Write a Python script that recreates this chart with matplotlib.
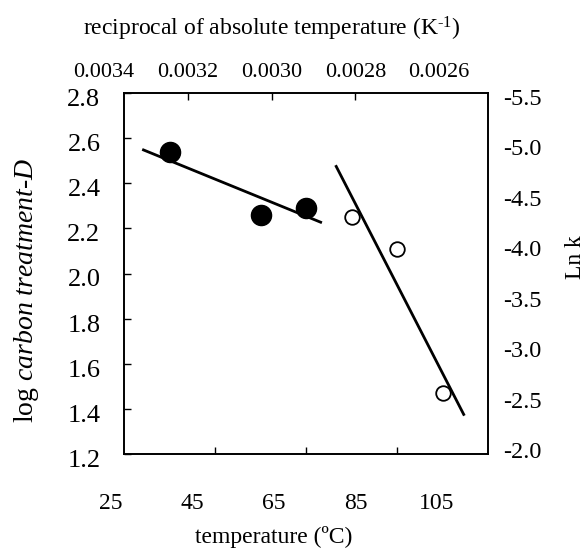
import matplotlib
matplotlib.use('Agg')
import matplotlib.pyplot as plt
import matplotlib.transforms as mtransforms

plt.rcParams['font.family'] = 'Liberation Serif'
plt.rcParams['mathtext.fontset'] = 'custom'
plt.rcParams['mathtext.rm'] = 'Liberation Serif'
plt.rcParams['mathtext.it'] = 'Liberation Serif:italic'

# datos
temp_baja = [35, 55, 65]
logD_baja = [2.54, 2.26, 2.29]
temp_alta = [75, 85, 95]
logD_alta = [2.25, 2.11, 1.47]

# rectas de ajuste (extremos)
recta_baja_x = [29, 68.5]
recta_baja_y = [2.55, 2.225]
recta_alta_x = [71.5, 99.8]
recta_alta_y = [2.48, 1.37]

temp_ticks = [25, 45, 65, 85, 105]
recip_ticks = [0.0034, 0.0032, 0.0030, 0.0028, 0.0026]
recip_labels = ['0.0034', '0.0032', '0.0030', '0.0028', '0.0026']
recip_marcas = [0.0032, 0.0030, 0.0028]
logD_ticks = [1.2, 1.4, 1.6, 1.8, 2.0, 2.2, 2.4, 2.6, 2.8]
lnk_ticks = [-5.5, -5.0, -4.5, -4.0, -3.5, -3.0, -2.5, -2.0]

W, H = 586, 548
fig = plt.figure(figsize=(W / 100, H / 100), dpi=100)

# eje principal
ax = fig.add_axes([124 / W, 94 / H, 364 / W, 361 / H])
ax.plot(recta_baja_x, recta_baja_y, color='k', linewidth=2.0, solid_capstyle='butt')
ax.plot(recta_alta_x, recta_alta_y, color='k', linewidth=2.0, solid_capstyle='butt')
ax.plot(temp_baja, logD_baja, 'o', color='k', markersize=14.5, zorder=3)
ax.plot(temp_alta, logD_alta, 'o', markerfacecolor='white', markeredgecolor='k',
        markersize=10.5, markeredgewidth=1.3, zorder=3)
ax.set_xlim(25, 105)
ax.set_ylim(1.2, 2.8)
ax.set_xticks([45, 65, 85])
ax.set_xticklabels([])
ax.set_yticks(logD_ticks)
ax.set_yticklabels(['%.1f' % v for v in logD_ticks], fontsize=19)
ax.tick_params(axis='x', direction='in', length=5, width=1, top=False)
ax.tick_params(axis='y', direction='in', length=5, width=1, right=True, pad=17)
for s in ax.spines.values():
    s.set_linewidth(1.4)
desplazar = mtransforms.ScaledTranslation(0, -4.5 / 100, fig.dpi_scale_trans)
for lab in ax.get_yticklabels():
    lab.set_transform(lab.get_transform() + desplazar)
ax.set_ylabel(r'log $\mathit{carbon}$ $\mathit{treatment}$-$\mathit{D}$', fontsize=20)
ax.yaxis.set_label_coords(-0.228, 0.454)

# eje derecho Ln k
ax2 = ax.twinx()
ax2.set_ylim(-1.96, -5.54)
ax2.set_yticks(lnk_ticks)
ax2.set_yticklabels(['%.1f' % v for v in lnk_ticks], fontsize=17.5)
ax2.tick_params(axis='y', length=0, pad=11)
ax2.set_ylabel('Ln k', fontsize=17)
ax2.yaxis.set_label_coords(1.212, 0.546)
for s in ax2.spines.values():
    s.set_visible(False)

# eje superior (inverso de temperatura absoluta)
ax_sup = fig.add_axes([104 / W, 94 / H, 335 / W, 361 / H], frameon=False)
ax_sup.set_xlim(0.0034, 0.0026)
ax_sup.xaxis.tick_top()
ax_sup.xaxis.set_label_position('top')
ax_sup.set_xticks(recip_ticks)
ax_sup.set_xticklabels(recip_labels, fontsize=16)
ax_sup.tick_params(axis='x', length=0, pad=8)
ax_sup.set_yticks([])
ax_sup.set_xlabel(r'reciprocal of absolute temperature (K$^{\text{-}1}$)', fontsize=17)
ax_sup.xaxis.set_label_coords(0.5, 1.16)

# marcas del eje superior
ax_marcas = fig.add_axes([104 / W, 94 / H, 335 / W, 361 / H], frameon=False)
ax_marcas.set_xlim(0.0034, 0.0026)
ax_marcas.xaxis.tick_top()
ax_marcas.set_xticks(recip_marcas)
ax_marcas.set_xticklabels([])
ax_marcas.tick_params(axis='x', direction='in', length=5, width=1)
ax_marcas.set_yticks([])

# eje inferior de etiquetas (temperatura)
ax_inf = fig.add_axes([111 / W, 94 / H, 326 / W, 361 / H], frameon=False)
ax_inf.set_xlim(25, 105)
ax_inf.set_xticks(temp_ticks)
ax_inf.set_xticklabels([str(t) for t in temp_ticks], fontsize=17)
ax_inf.tick_params(axis='x', length=0, pad=28)
ax_inf.set_yticks([])
ax_inf.set_xlabel('temperature (ºC)', fontsize=17)
ax_inf.xaxis.set_label_coords(0.5, -0.2)

fig.savefig('out.png', dpi=100)
